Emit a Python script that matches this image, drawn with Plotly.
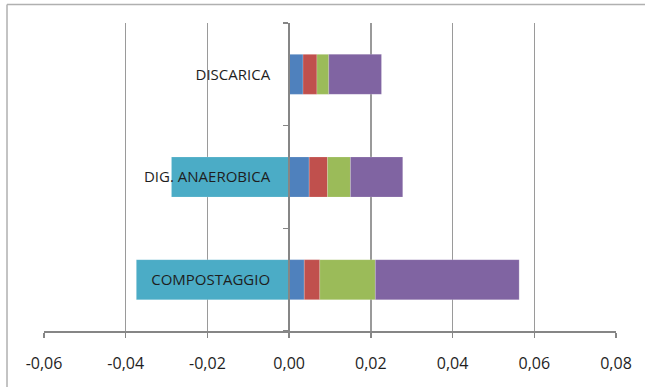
import plotly.graph_objects as go

categories = ["COMPOSTAGGIO", "DIG. ANAEROBICA", "DISCARICA"]
s_teal = [-0.0374, -0.0288, 0.0]
s_blue = [0.0037, 0.0049, 0.0034]
s_red = [0.0038, 0.0045, 0.0034]
s_green = [0.0136, 0.0056, 0.0029]
s_purple = [0.0352, 0.0128, 0.0129]
tick_vals = [-0.06, -0.04, -0.02, 0.0, 0.02, 0.04, 0.06, 0.08]
tick_text = ["-0,06", "-0,04", "-0,02", "0,00", "0,02", "0,04", "0,06", "0,08"]

series = [
    ("Serie 1", s_teal, "#4BACC6"),
    ("Serie 2", s_blue, "#4F81BD"),
    ("Serie 3", s_red, "#C0504D"),
    ("Serie 4", s_green, "#9BBB59"),
    ("Serie 5", s_purple, "#8064A2"),
]

fig = go.Figure()
for name, vals, col in series:
    fig.add_trace(go.Bar(
        y=categories, x=vals, orientation="h", name=name,
        marker=dict(color=col, line=dict(color="rgba(255,255,255,0.35)", width=0.5)),
        hoverinfo="skip", showlegend=False,
    ))

W, H = 645, 387
L, R, T, B = 43.5, 29.3, 23, 56
pw = W - L - R
ph = H - T - B
xmin, xmax = -0.06, 0.08
zero_pos = (0 - xmin) / (xmax - xmin)

# outer chart border (top and left visible)
bx = (6.5 - L) / pw
by = 1 + (T - 4.5) / ph

fig.update_layout(
    width=W, height=H,
    margin=dict(l=L, r=R, t=T, b=B, pad=0),
    paper_bgcolor="white", plot_bgcolor="white",
    barmode="relative", bargap=0.61,
    font=dict(family="Open Sans", size=15, color="#1E1E1E"),
    xaxis=dict(
        range=[xmin, xmax], tickvals=tick_vals, ticktext=tick_text,
        showgrid=True, gridcolor="#9A9A9A", gridwidth=1.5,
        zeroline=False, showline=True, linecolor="#868686", linewidth=2,
        ticks="outside", ticklen=5, tickcolor="#868686", tickwidth=1.5,
        tickfont=dict(size=16), ticklabelstandoff=12, fixedrange=True,
    ),
    yaxis=dict(
        anchor="free", position=zero_pos, type="category",
        categoryorder="array", categoryarray=categories,
        showgrid=False, zeroline=False, showline=True, linecolor="#868686", linewidth=2,
        ticks="outside", ticklen=5, tickcolor="#868686", tickwidth=1.5,
        tickson="boundaries", ticklabelstandoff=15, fixedrange=True,
    ),
    shapes=[
        dict(type="line", xref="paper", yref="paper", x0=bx, x1=1.2, y0=by, y1=by,
             line=dict(color="#B0B0B0", width=1.5)),
        dict(type="line", xref="paper", yref="paper", x0=bx, x1=bx, y0=by, y1=-0.3,
             line=dict(color="#B0B0B0", width=1.5)),
    ],
)

fig.write_html(
    "out.html",
    config={"displayModeBar": False, "staticPlot": True},
    post_script="document.body.style.margin='0';document.body.style.overflow='hidden';",
)
